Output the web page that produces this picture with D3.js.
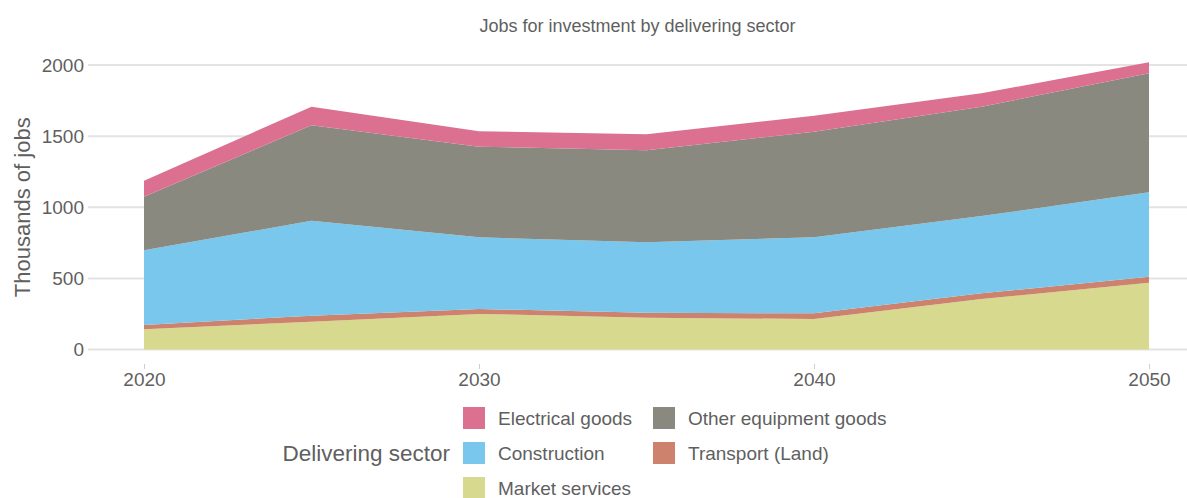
<!DOCTYPE html>
<html lang="en">
<head>
<meta charset="UTF-8">
<title>Jobs for investment by delivering sector</title>
<script src="https://d3js.org/d3.v7.min.js"></script>
<style>
  body { margin: 0; background: #fff; }
  svg { display: block; font-family: "Liberation Sans", Arial, sans-serif; }
  .grid line { stroke: #e3e3e3; stroke-width: 2; }
  .axis-text { fill: #5f5f5f; }
</style>
</head>
<body>
<svg id="chart" width="1187" height="498"></svg>
<script>
// data (thousands of jobs)
const years = [2020, 2025, 2030, 2035, 2040, 2045, 2050];
const marketServices = [142, 195, 250, 224, 214, 355, 470];
const transportLand = [30, 43, 35, 35, 40, 40, 42];
const construction = [525, 667, 504, 495, 535, 543, 593];
const otherEquipment = [377, 671, 637, 646, 742, 769, 837];
const electricalGoods = [113, 131, 108, 113, 113, 94, 77];

const yTicks = [0, 500, 1000, 1500, 2000];
const xTicks = [2020, 2030, 2040, 2050];

// stacking order, bottom to top
const series = [
  { key: "Market services", values: marketServices, color: "#d7d98f" },
  { key: "Transport (Land)", values: transportLand, color: "#cd826e" },
  { key: "Construction", values: construction, color: "#79c7ec" },
  { key: "Other equipment goods", values: otherEquipment, color: "#8a8980" },
  { key: "Electrical goods", values: electricalGoods, color: "#db7090" }
];

// legend layout order (row by row, two columns)
const legendOrder = ["Electrical goods", "Other equipment goods", "Construction", "Transport (Land)", "Market services"];

const svg = d3.select("#chart");
const plot = { left: 88, right: 1187, top: 65, bottom: 349.5 };

const x = d3.scaleLinear().domain([2020, 2050]).range([144, 1149]);
const y = d3.scaleLinear().domain([0, 2000]).range([plot.bottom, plot.top]);

// title
svg.append("text")
  .attr("x", (plot.left + plot.right) / 2)
  .attr("y", 32)
  .attr("text-anchor", "middle")
  .attr("font-size", 18)
  .attr("class", "axis-text")
  .text("Jobs for investment by delivering sector");

// grid
svg.append("g").attr("class", "grid")
  .selectAll("line").data(yTicks).join("line")
  .attr("x1", plot.left).attr("x2", plot.right)
  .attr("y1", d => y(d)).attr("y2", d => y(d));

// stacked areas
const table = years.map((yr, i) => {
  const row = { year: yr };
  series.forEach(s => { row[s.key] = s.values[i]; });
  return row;
});
const stack = d3.stack().keys(series.map(s => s.key));
const layers = stack(table);
const area = d3.area()
  .x(d => x(d.data.year))
  .y0(d => y(d[0]))
  .y1(d => y(d[1]));

svg.append("g").selectAll("path").data(layers).join("path")
  .attr("fill", (d, i) => series[i].color)
  .attr("d", area);

// y axis labels
const yAxis = svg.append("g")
  .attr("transform", "translate(84,0)")
  .call(d3.axisLeft(y).tickValues(yTicks).tickFormat(d3.format("d")).tickSize(0).tickPadding(0));
yAxis.select(".domain").remove();
yAxis.selectAll("text")
  .attr("class", "axis-text")
  .attr("font-size", 19)
  .attr("font-family", "Liberation Sans, Arial, sans-serif");

// x axis
const xAxis = svg.append("g")
  .attr("transform", "translate(0,364)")
  .call(d3.axisBottom(x).tickValues(xTicks).tickFormat(d3.format("d")).tickSize(5).tickPadding(4));
xAxis.select(".domain").remove();
xAxis.selectAll("line").attr("stroke", "#cfcfcf");
xAxis.selectAll("text")
  .attr("class", "axis-text")
  .attr("font-size", 19)
  .attr("font-family", "Liberation Sans, Arial, sans-serif");

// y axis title
svg.append("text")
  .attr("transform", `translate(30,${(plot.top + plot.bottom) / 2}) rotate(-90)`)
  .attr("text-anchor", "middle")
  .attr("font-size", 22)
  .attr("class", "axis-text")
  .text("Thousands of jobs");

// legend
const legend = svg.append("g");
legend.append("text")
  .attr("x", 450).attr("y", 453)
  .attr("dy", "0.35em")
  .attr("text-anchor", "end")
  .attr("font-size", 22.5)
  .attr("class", "axis-text")
  .text("Delivering sector");

const colX = [463, 653];
legendOrder.forEach((name, i) => {
  const s = series.find(d => d.key === name);
  const cx = colX[i % 2];
  const cy = 407 + Math.floor(i / 2) * 35;
  legend.append("rect")
    .attr("x", cx).attr("y", cy)
    .attr("width", 22).attr("height", 22)
    .attr("fill", s.color);
  legend.append("text")
    .attr("x", cx + 35).attr("y", cy + 11)
    .attr("dy", "0.35em")
    .attr("font-size", 19)
    .attr("class", "axis-text")
    .text(name);
});
</script>
</body>
</html>
